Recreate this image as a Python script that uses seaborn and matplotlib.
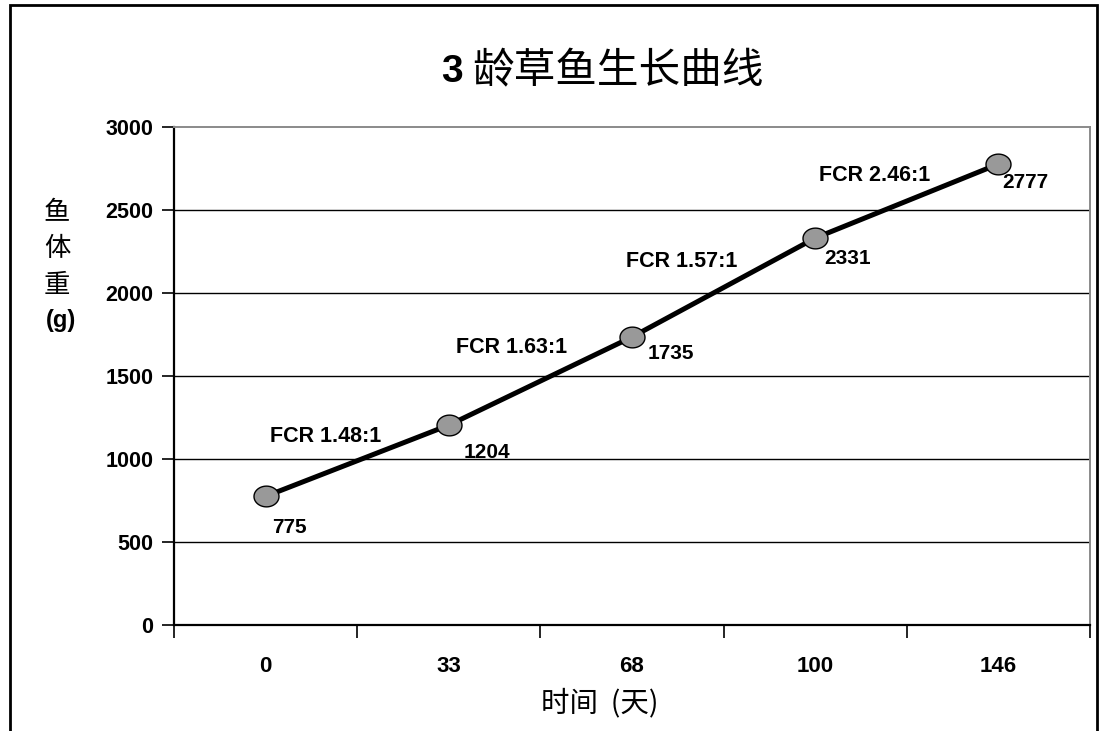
import numpy as np
import pandas as pd
import matplotlib
matplotlib.use("Agg")
import matplotlib.pyplot as plt
from matplotlib.path import Path
from matplotlib.patches import Rectangle
import seaborn as sns

# Growth data for 3-year-old grass carp
days = ["0", "33", "68", "100", "146"]
weights = [775, 1204, 1735, 2331, 2777]
fcr_labels = ["FCR 1.48:1", "FCR 1.63:1", "FCR 1.57:1", "FCR 2.46:1"]
y_ticks = [0, 500, 1000, 1500, 2000, 2500, 3000]

title_num = "3"
title_cn = "龄草鱼生长曲线"
x_title = "时间  (天)"
y_title_cn = "鱼\n体\n重"
y_title_unit = "(g)"

# Placement of the FCR notes (category index, weight) and value-label offsets (px)
fcr_pos = [(0.330, 1133), (1.345, 1669), (2.273, 2187), (3.326, 2705)]
value_offsets = [(24, -31), (38, -27), (39, -17), (32, -20), (27, -18)]

sns.set_theme(style="white")
plt.rcParams["font.family"] = ["Liberation Sans", "Noto Sans CJK SC", "DejaVu Sans"]
plt.rcParams.update({"text.color": "black", "axes.labelcolor": "black",
                     "xtick.color": "black", "ytick.color": "black"})
CJK = ["Noto Sans CJK SC", "DejaVu Sans"]
LAT = ["Liberation Sans", "DejaVu Sans"]

df = pd.DataFrame({"day": pd.Categorical(days, categories=days, ordered=True),
                   "weight": weights})

fig = plt.figure(figsize=(11.02, 7.31), dpi=100)
ax = fig.add_axes([174 / 1102, 1 - 625 / 731, 916 / 1102, 498 / 731])

# slightly flattened ellipse marker
t = np.linspace(0, 2 * np.pi, 60)
ellipse = Path(np.column_stack([np.cos(t), 0.83 * np.sin(t)]), closed=True)

sns.lineplot(data=df, x="day", y="weight", ax=ax, color="black", linewidth=3.6,
             marker=ellipse, markersize=18, markerfacecolor="#999999",
             markeredgecolor="black", markeredgewidth=1.0, sort=False, zorder=3)

ax.set_xlim(-0.5, len(days) - 0.5)
ax.set_ylim(0, 3000)
ax.set_yticks(y_ticks)
ax.set_yticklabels([str(v) for v in y_ticks])
ax.set_xticks(range(len(days)))
ax.set_xticklabels(days)
ax.set_xticks(np.arange(-0.5, len(days)), minor=True)

ax.tick_params(axis="y", which="major", direction="out", length=9, width=1.2,
               color="black", left=True, pad=6, labelsize=15.5, labelcolor="black")
ax.tick_params(axis="x", which="major", length=0, pad=22, labelsize=16,
               labelcolor="black")
ax.tick_params(axis="x", which="minor", direction="out", length=9, width=1.2,
               color="black", bottom=True)
for lab in ax.get_xticklabels() + ax.get_yticklabels():
    lab.set_fontweight("bold")
    lab.set_family(LAT)

ax.grid(False)
for v in y_ticks[1:-1]:
    ax.axhline(v, color="black", linewidth=1.0, zorder=1)

for side in ["left", "bottom"]:
    ax.spines[side].set_color("black")
    ax.spines[side].set_linewidth(1.6)
for side in ["top", "right"]:
    ax.spines[side].set_color("#8a8a8a")
    ax.spines[side].set_linewidth(1.4)

ax.set_xlabel("")
ax.set_ylabel("")

# value labels beside each point
for i, w in enumerate(weights):
    dx, dy = value_offsets[i]
    ax.annotate(str(w), xy=(i, w), xytext=(dx, dy), textcoords="offset pixels",
                ha="center", va="center", fontsize=15, fontweight="bold",
                family=LAT, color="black", zorder=4)

# feed conversion ratios along each segment
for txt, (xc, yc) in zip(fcr_labels, fcr_pos):
    ax.text(xc, yc, txt, ha="center", va="center", fontsize=15.5,
            fontweight="bold", family=LAT, color="black", zorder=4)

# title: bold numeral followed by the Chinese text
t_num = fig.text(441 / 1102, 1 - 72 / 731, title_num, ha="left", va="center",
                 fontsize=28, fontweight="bold", family=LAT, color="black")
fig.canvas.draw()
ax.annotate(title_cn, xy=(1, 0.5), xycoords=t_num, xytext=(10, 0),
            textcoords="offset pixels", ha="left", va="center",
            fontsize=30, family=CJK, color="black", annotation_clip=False)

# axis titles
fig.text(600 / 1102, 1 - 703 / 731, x_title, ha="center", va="center",
         fontsize=20.5, family=CJK, color="black")
fig.text(57 / 1102, 1 - 249 / 731, y_title_cn, ha="center", va="center",
         fontsize=19, family=CJK, linespacing=1.45, color="black")
fig.text(61 / 1102, 1 - 321 / 731, y_title_unit, ha="center", va="center",
         fontsize=17, fontweight="bold", family=LAT, color="black")

# outer chart frame (open at the bottom edge of the image)
frame = Rectangle((10 / 1102, -0.05), 1087 / 1102, 1.05 - 5 / 731,
                  transform=fig.transFigure, fill=False, edgecolor="black",
                  linewidth=2.0, clip_on=False)
fig.patches.append(frame)

fig.savefig("out.png", dpi=100)
